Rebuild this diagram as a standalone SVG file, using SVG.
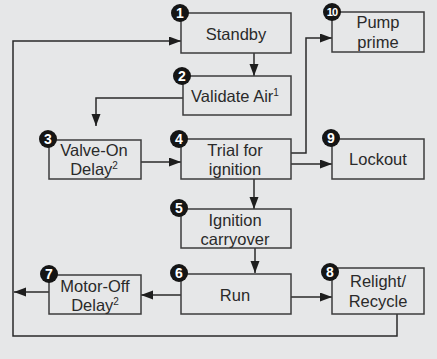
<svg xmlns="http://www.w3.org/2000/svg" width="437" height="359" viewBox="0 0 437 359">
<defs>
<marker id="ah" markerUnits="userSpaceOnUse" markerWidth="13" markerHeight="10" refX="12" refY="4.5" orient="auto">
<path d="M0,0 L12,4.5 L0,9 Z" fill="#1e1e1e"/>
</marker>
<style>
.box{fill:none;stroke:#3c3c3c;stroke-width:1.5}
.lbl{font-family:"Liberation Sans",Arial,sans-serif;font-size:16.5px;fill:#2a2a2a;text-anchor:middle}
.sup{font-size:10px}
.bd{fill:#151515}
.bn{font-family:"Liberation Sans",Arial,sans-serif;font-weight:bold;font-size:14px;fill:#ffffff;text-anchor:middle}
.con{fill:none;stroke:#2a2a2a;stroke-width:1.5}
.arr{marker-end:url(#ah)}
</style>
</defs>
<rect width="437" height="359" fill="#e6e7e8"/>
<g id="connectors">
<polyline class="con arr" points="397,314 397,336 13,336 13,41 181,41"/>
<line class="con arr" x1="254" y1="53" x2="254" y2="76"/>
<polyline class="con arr" points="183,98 96,98 96,126"/>
<line class="con arr" x1="141" y1="162" x2="181" y2="162"/>
<polyline class="con arr" points="291,153 306,153 306,38 332,38"/>
<line class="con arr" x1="291" y1="164" x2="332" y2="164"/>
<line class="con arr" x1="254" y1="179" x2="254" y2="209"/>
<line class="con arr" x1="255" y1="248" x2="255" y2="273"/>
<line class="con arr" x1="181" y1="295" x2="141" y2="295"/>
<line class="con arr" x1="49" y1="292" x2="14" y2="292"/>
<line class="con arr" x1="291" y1="297" x2="332" y2="297"/>
</g>
<g id="n1">
<rect class="box" x="181" y="13" width="110" height="40"/>
<text class="lbl" x="236" y="40">Standby</text>
<circle class="bd" cx="180" cy="13" r="9"/>
<text class="bn" x="180" y="18">1</text>
</g>
<g id="n2">
<rect class="box" x="183" y="76" width="108" height="39"/>
<text class="lbl" x="235" y="102">Validate Air<tspan class="sup" dy="-6">1</tspan></text>
<circle class="bd" cx="182" cy="76" r="9"/>
<text class="bn" x="182" y="81">2</text>
</g>
<g id="n3">
<rect class="box" x="49" y="140" width="92" height="39"/>
<text class="lbl" x="94" y="156">Valve-On</text>
<text class="lbl" x="94" y="175">Delay<tspan class="sup" dy="-6">2</tspan></text>
<circle class="bd" cx="48" cy="139" r="9"/>
<text class="bn" x="48" y="144">3</text>
</g>
<g id="n4">
<rect class="box" x="181" y="139" width="110" height="40"/>
<text class="lbl" x="235" y="156">Trial for</text>
<text class="lbl" x="235" y="175">ignition</text>
<circle class="bd" cx="179" cy="139" r="9"/>
<text class="bn" x="179" y="144">4</text>
</g>
<g id="n5">
<rect class="box" x="181" y="209" width="110" height="39"/>
<text class="lbl" x="235" y="226">Ignition</text>
<text class="lbl" x="235" y="245">carryover</text>
<circle class="bd" cx="179" cy="208" r="9"/>
<text class="bn" x="179" y="213">5</text>
</g>
<g id="n6">
<rect class="box" x="181" y="274" width="110" height="40"/>
<text class="lbl" x="235" y="301">Run</text>
<circle class="bd" cx="179" cy="273" r="9"/>
<text class="bn" x="179" y="278">6</text>
</g>
<g id="n7">
<rect class="box" x="49" y="275" width="92" height="39"/>
<text class="lbl" x="95" y="292">Motor-Off</text>
<text class="lbl" x="95" y="311">Delay<tspan class="sup" dy="-6">2</tspan></text>
<circle class="bd" cx="49" cy="274" r="9"/>
<text class="bn" x="49" y="279">7</text>
</g>
<g id="n8">
<rect class="box" x="332" y="268" width="92" height="46"/>
<text class="lbl" x="378" y="287">Relight/</text>
<text class="lbl" x="378" y="307">Recycle</text>
<circle class="bd" cx="330" cy="272" r="9"/>
<text class="bn" x="330" y="277">8</text>
</g>
<g id="n9">
<rect class="box" x="332" y="139" width="92" height="40"/>
<text class="lbl" x="378" y="165">Lockout</text>
<circle class="bd" cx="331" cy="138" r="9"/>
<text class="bn" x="331" y="143">9</text>
</g>
<g id="n10">
<rect class="box" x="332" y="12" width="92" height="40"/>
<text class="lbl" x="378" y="28">Pump</text>
<text class="lbl" x="378" y="48">prime</text>
<circle class="bd" cx="332" cy="12" r="9"/>
<text class="bn" x="332" y="16" style="font-size:11px;letter-spacing:-0.8px">10</text>
</g>
</svg>
